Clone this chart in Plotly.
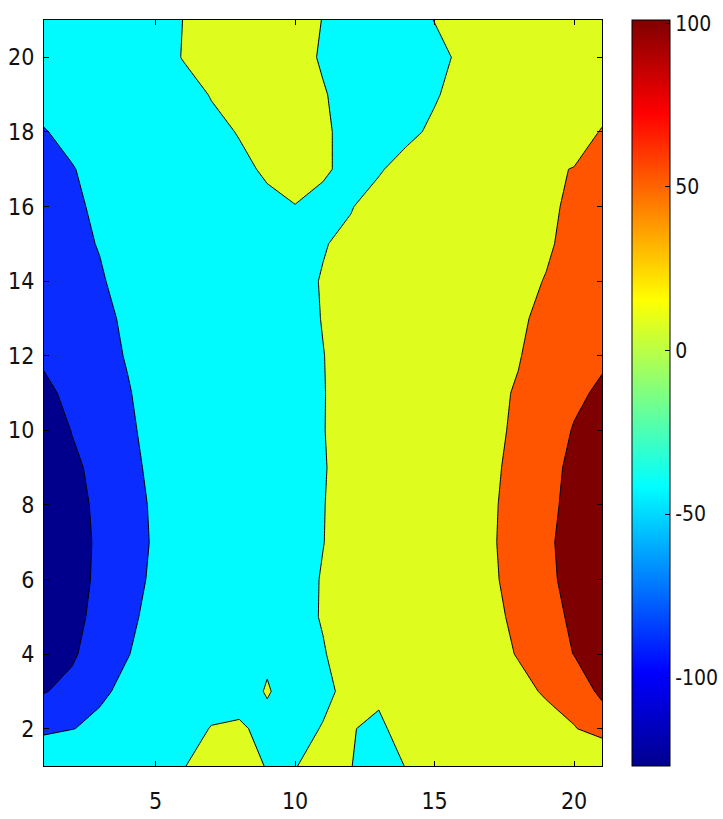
import plotly.graph_objects as go

# grid coordinates
x_vals = list(range(1, 22))
y_vals = list(range(1, 22))

# field values, one list per row (y = 1 ... 21), columns x = 1 ... 21
row_y01 = [-1, -1, -1, -1, -1, -0.2, 2, 2, -0.25, -0.2, 2, 0.1, -2, 0.2, 1, 1, 1, 1, 1, 1, 1]
row_y02 = [-54, -46, -38, -32, -26, -18, 2, 4, -8, -6, 1, 2, -8, 18, 21, 24, 28, 33, 38, 43, 60]
row_y03 = [-92, -80, -50, -38, -32, -26, -20, -12, 2, -12, -4, 5, 8, 16, 22, 27, 32, 40, 47, 62, 100]
row_y04 = [-110, -95, -72, -46, -34, -28, -21, -14, -4, -5, -1, 7, 14, 21, 27, 33, 39, 46, 70, 91, 100]
row_y05 = [-118, -102, -78, -51, -36, -30, -24, -17, -11, -5, 1, 7, 14, 20, 27, 33, 39, 50, 76, 97, 101]
row_y06 = [-124, -106, -82, -58, -38, -32, -26, -19, -12, -6, 1, 7, 14, 20, 27, 33, 40, 56, 84, 99, 101]
row_y07 = [-127, -105, -84, -62, -40, -34, -27, -20, -13, -6, -0.3, 6, 13, 20, 27, 34, 40, 62, 86, 99, 101]
row_y08 = [-126, -100, -84, -57, -40, -33, -27, -20, -13, -7, -0.5, 6, 13, 20, 27, 34, 40, 58, 84, 97, 101]
row_y09 = [-122, -97, -80, -54, -37, -31, -25, -19, -13, -7, -1, 6, 12, 19, 26, 33, 39, 54, 80, 97, 100]
row_y10 = [-112, -89, -75, -50, -35, -30, -24, -18, -12, -6, -0.5, 6, 12, 19, 25, 32, 38, 50, 74, 92, 98]
row_y11 = [-100, -79, -67, -47, -33, -28, -23, -17, -11, -5, -0.5, 5, 11, 17, 24, 30, 37, 48, 68, 84, 95]
row_y12 = [-83, -68, -55, -43, -31, -26, -21, -16, -10, -5, -0.3, 5, 10, 16, 22, 29, 35, 43, 60, 75, 85]
row_y13 = [-75, -62, -51, -41, -31, -25, -20, -15, -10, -5, 0.5, 5, 10, 15, 21, 27, 33, 40, 53, 68, 78]
row_y14 = [-69, -56, -47, -38, -30, -25, -20, -15, -10, -5, 1, 6, 11, 16, 21, 27, 33, 39, 46, 60, 72]
row_y15 = [-63, -50, -44, -37, -30, -25, -20, -15, -10, -4, -1, 4, 9, 14, 19, 25, 31, 37, 42, 52, 66]
row_y16 = [-57, -48, -42, -36, -30, -25, -20, -14, -8, -0.5, -6, -1, 8, 14, 19, 25, 31, 37, 41, 49, 60]
row_y17 = [-51, -46, -39, -34, -29, -24, -18, -8, 5, 8, 3, -6, -2, 8, 16, 24, 30, 36, 43, 45.5, 53]
row_y18 = [-46, -40, -35, -31, -27, -22, -10, 2, 10, 12, 4, -8, -8, -5, 4, 14, 22, 28, 33, 38, 46]
row_y19 = [-38, -34, -30, -27, -23, -15, 2, 10, 14, 12, 2, -10, -12, -10, -2, 8, 16, 23, 29, 34, 38]
row_y20 = [-32, -29, -26, -23, -18, 2, 9, 14, 15, 10, -3, -12, -14, -11, -6, 4, 12, 19, 25, 30, 34]
row_y21 = [-28, -25, -22, -19, -14, 0.5, 8, 13, 14, 8, -0.5, -10, -12, -9, 0.5, 8, 14, 20, 25, 29, 32]

z_rows = [row_y01, row_y02, row_y03, row_y04, row_y05, row_y06, row_y07,
          row_y08, row_y09, row_y10, row_y11, row_y12, row_y13, row_y14,
          row_y15, row_y16, row_y17, row_y18, row_y19, row_y20, row_y21]

# contour levels and colour range
level_start, level_end, level_step = -90, 90, 45
c_min, c_max = -127, 101

x_ticks = [5, 10, 15, 20]
y_ticks = [2, 4, 6, 8, 10, 12, 14, 16, 18, 20]
cbar_ticks = [-100, -50, 0, 50, 100]
cbar_labels = ["-100", "-50", "0", "50", "100"]

band_colors = ["#00008c", "#0a2cff", "#00fbff", "#defc1e", "#ff5400", "#7f0000"]
jet = [[0.0, "#00008f"], [0.125, "#0000ff"], [0.375, "#00ffff"],
       [0.625, "#ffff00"], [0.875, "#ff0000"], [1.0, "#800000"]]

font_family = "DejaVu Sans Condensed, Liberation Sans Narrow, sans-serif"

n_b = len(band_colors)
band_scale = [[i / (n_b - 1), c] for i, c in enumerate(band_colors)]

cbar_x = 1.054  # paper x of the colour bar's left edge
plot_w = 723 - 44 - 121

fig = go.Figure()
fig.add_trace(go.Contour(
    x=x_vals, y=y_vals, z=z_rows,
    contours=dict(start=level_start, end=level_end, size=level_step,
                  coloring="fill", showlines=True),
    colorscale=band_scale, showscale=False,
    line=dict(color="black", width=1, smoothing=0),
    hoverinfo="skip",
))
# continuous jet colour bar
fig.add_trace(go.Scatter(
    x=[None], y=[None], mode="markers", showlegend=False,
    marker=dict(color=[c_min], colorscale=jet, cmin=c_min, cmax=c_max, showscale=True,
                colorbar=dict(x=cbar_x, xanchor="left", xpad=0, ypad=0,
                              thickness=38, thicknessmode="pixels",
                              len=1.0, lenmode="fraction", y=0.5, yanchor="middle",
                              outlinewidth=1, outlinecolor="black",
                              tickvals=cbar_ticks, ticktext=cbar_labels,
                              ticks="inside", ticklen=5, tickcolor="black",
                              tickfont=dict(family=font_family, size=21, color="#111"))),
))

# tick marks on the left edge of the colour bar (MATLAB style)
for v in cbar_ticks:
    yp = (v - c_min) / (c_max - c_min)
    fig.add_shape(type="line", xref="paper", yref="paper",
                  x0=cbar_x, x1=cbar_x + 5 / plot_w, y0=yp, y1=yp,
                  line=dict(color="black", width=1))

axis_common = dict(showgrid=False, zeroline=False, showline=True, linecolor="black",
                   linewidth=1, mirror="ticks", ticks="inside", ticklen=5,
                   tickcolor="black", tickfont=dict(family=font_family, size=23, color="#111"))
fig.update_xaxes(range=[1, 21], tickvals=x_ticks, ticklabelstandoff=14, **axis_common)
fig.update_yaxes(range=[1, 21], tickvals=y_ticks, ticklabelstandoff=4, **axis_common)

fig.update_layout(
    width=723, height=819,
    margin=dict(l=44, r=121, t=20, b=53, autoexpand=False),
    paper_bgcolor="white", plot_bgcolor="white",
    showlegend=False,
)
fig.write_html("out.html")
